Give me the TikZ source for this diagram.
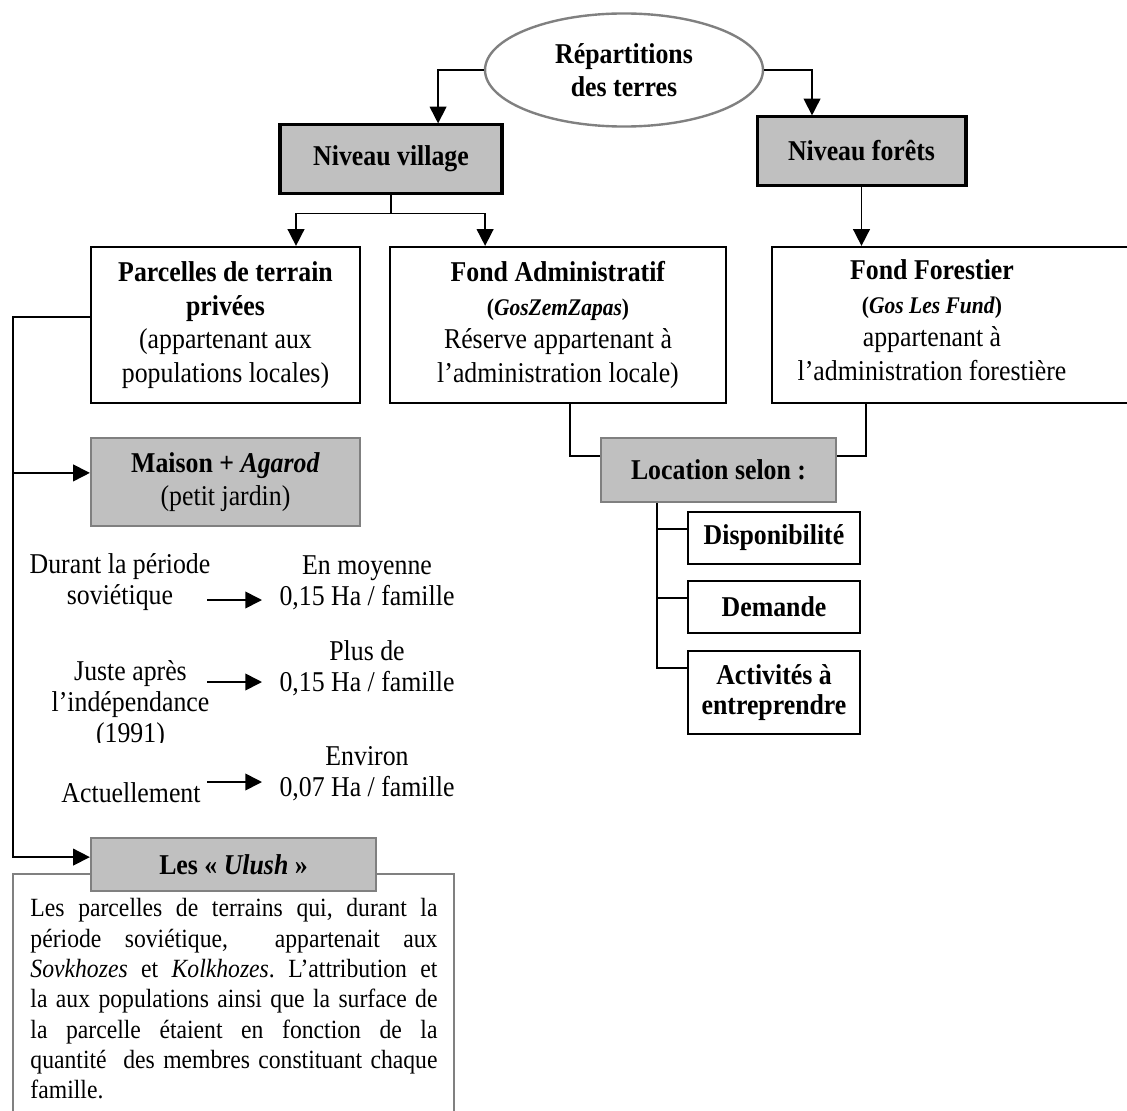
\documentclass[tikz,border=0pt]{standalone}
\usepackage{fontspec}
\setmainfont[FakeStretch=0.9]{Liberation Serif}
\usetikzlibrary{arrows.meta,shapes.geometric,positioning}

\definecolor{boxgrey}{RGB}{192,192,192}
\definecolor{edgegrey}{RGB}{128,128,128}
\newcommand{\boxsize}{\fontsize{12}{14}\selectfont}
\newcommand{\notesize}{\fontsize{12}{13}\selectfont}
\hyphenpenalty=10000
\exhyphenpenalty=10000
\frenchspacing

\tikzset{
  headbox/.style={draw,line width=1.3pt,fill=boxgrey,inner sep=0pt,font=\boxsize\bfseries},
  greybox/.style={draw=edgegrey,line width=1pt,fill=boxgrey,inner sep=0pt,align=center,font=\boxsize},
  whitebox/.style={draw,line width=0.9pt,fill=white,inner sep=0pt,align=center,font=\boxsize},
  note/.style={inner sep=0pt,align=center,font=\notesize},
  link/.style={line width=0.7pt},
  arr/.style={link,-{Triangle[length=7pt,width=7pt]}},
}

\begin{document}
\begin{tikzpicture}[x=0.4184pt,y=-0.4184pt]
  \useasboundingbox (0,0) rectangle (1127,1111);
  \clip (0,0) rectangle (1127,1111);
  % top of the tree
  \node[ellipse,draw=edgegrey,line width=1pt,fill=white,minimum width=116.3pt,minimum height=47.3pt,
        inner sep=0pt,align=center,font=\boxsize\bfseries] (rep) at (624,70) {Répartitions\\des terres};
  \node[headbox,minimum width=92.9pt,minimum height=28.5pt] (village) at (391,159) {Niveau village};
  \node[headbox,minimum width=87.4pt,minimum height=28.5pt] (fhead) at (861.5,151) {Niveau forêts};
  \draw[arr] (rep.west) -| ([xshift=19.7pt]village.north);
  \draw[arr] (rep.east) -| ([xshift=-20.7pt]fhead.north);
  % the three funds
  \node[whitebox,minimum width=112.5pt,minimum height=65.3pt] (parc) at (225.5,325)
    {\textbf{Parcelles de terrain}\\\textbf{privées}\\(appartenant aux\\populations locales)};
  \node[whitebox,minimum width=140.6pt,minimum height=65.3pt] (admin) at (558,325)
    {\textbf{Fond Administratif}\\{\fontsize{10}{12}\selectfont\bfseries(\textit{GosZemZapas})}\\Réserve appartenant à\\l’administration locale)};
  \node[whitebox,minimum width=154pt,minimum height=65.3pt] (fbox) at (956,325) {};
  \node[note,font=\boxsize] (ftxt) at (932,320)
    {\textbf{Fond Forestier}\\{\fontsize{10}{12}\selectfont\bfseries(\textit{Gos Les Fund})}\\appartenant à\\l’administration forestière};
  \draw[arr] (village.south) -- ++(0,19) -| ([xshift=29.5pt]parc.north);
  \draw[arr] (village.south) -- ++(0,19) -| ([xshift=-30.5pt]admin.north);
  \draw[arr] (fhead.south) -- (fhead.south |- fbox.north);
  % location
  \node[greybox,minimum width=98.3pt,minimum height=26.8pt,font=\boxsize\bfseries] (loc) at (718.5,470) {Location selon :};
  \node[whitebox,minimum width=72pt,minimum height=21.8pt,font=\boxsize\bfseries] (dispo) at (774,538) {Disponibilité};
  \node[whitebox,minimum width=72pt,minimum height=21.8pt,font=\boxsize\bfseries] (dem) at (774,607) {Demande};
  \node[whitebox,minimum width=72pt,minimum height=34.7pt,font=\fontsize{12}{12.8}\selectfont\bfseries] (act) at (774,692.5) {Activités à\\entreprendre};
  \draw[link] ([xshift=5pt]admin.south) |- ([yshift=5.9pt]loc.west);
  \draw[link] ([xshift=-37.7pt]fbox.south) |- ([yshift=5.9pt]loc.east);
  \draw[link] ([xshift=-25.7pt]loc.south) |- ([yshift=10.2pt]act.west);
  \draw[link] ([xshift=-25.7pt]loc.south) |- ([yshift=3.8pt]dispo.west);
  \draw[link] ([xshift=-25.7pt]loc.south) |- ([yshift=3.8pt]dem.west);
  % private plots
  \node[greybox,minimum width=112.5pt,minimum height=36.8pt] (maison) at (225.5,482)
    {\textbf{Maison + \textit{Agarod}}\\(petit jardin)};
  \node[note] (per1) at (120,582.5) {Durant la période\\soviétique};
  \node[note] (val1) at (367,582.5) {En moyenne\\0,15 Ha / famille};
  \begin{scope}
    \clip (0,0) rectangle (300,742);
    \node[note] (per2) at (130.5,705) {Juste après\\l’indépendance\\(1991)};
  \end{scope}
  \node[note] (val2) at (367,668) {Plus de\\0,15 Ha / famille};
  \node[note] (per3) at (131,793) {Actuellement};
  \node[note] (val3) at (367,773.5) {Environ\\0,07 Ha / famille};
  \foreach \yy/\nm in {600/1,682/2,782/3} {
    \coordinate (from\nm) at (207,\yy);
    \coordinate (to\nm) at (262,\yy);
    \draw[arr] (from\nm) -- (to\nm);
  }
  % Ulush
  \draw[edgegrey,line width=0.6pt] (13,874) rectangle (454,1140);
  \node[anchor=north west,inner sep=0pt,text width=170.3pt,align=justify,
        font=\fontsize{11}{12.7}\selectfont] (ulushtxt) at (30,898)
    {Les parcelles de terrains qui, durant la\linebreak
     période soviétique,\ \ appartenait aux\linebreak
     \textit{Sovkhozes} et \textit{Kolkhozes}. L’attribution et\linebreak
     la aux populations ainsi que la surface de\linebreak
     la parcelle étaient en fonction de la\linebreak
     quantité\ \ des membres constituant chaque\linebreak
     famille.};
  \node[greybox,minimum width=119.2pt,minimum height=22.2pt] (ulush) at (233.5,864.5)
    {\textbf{Les « \textit{Ulush} »}};
  \coordinate (spine) at (13,0);
  \coordinate (min) at ([yshift=3.8pt]maison.west);
  \coordinate (uin) at ([yshift=3.1pt]ulush.west);
  \draw[arr] ([yshift=3.3pt]parc.west) -| (spine |- uin) -- (uin);
  \draw[arr] (spine |- min) -- (min);
\end{tikzpicture}
\end{document}
